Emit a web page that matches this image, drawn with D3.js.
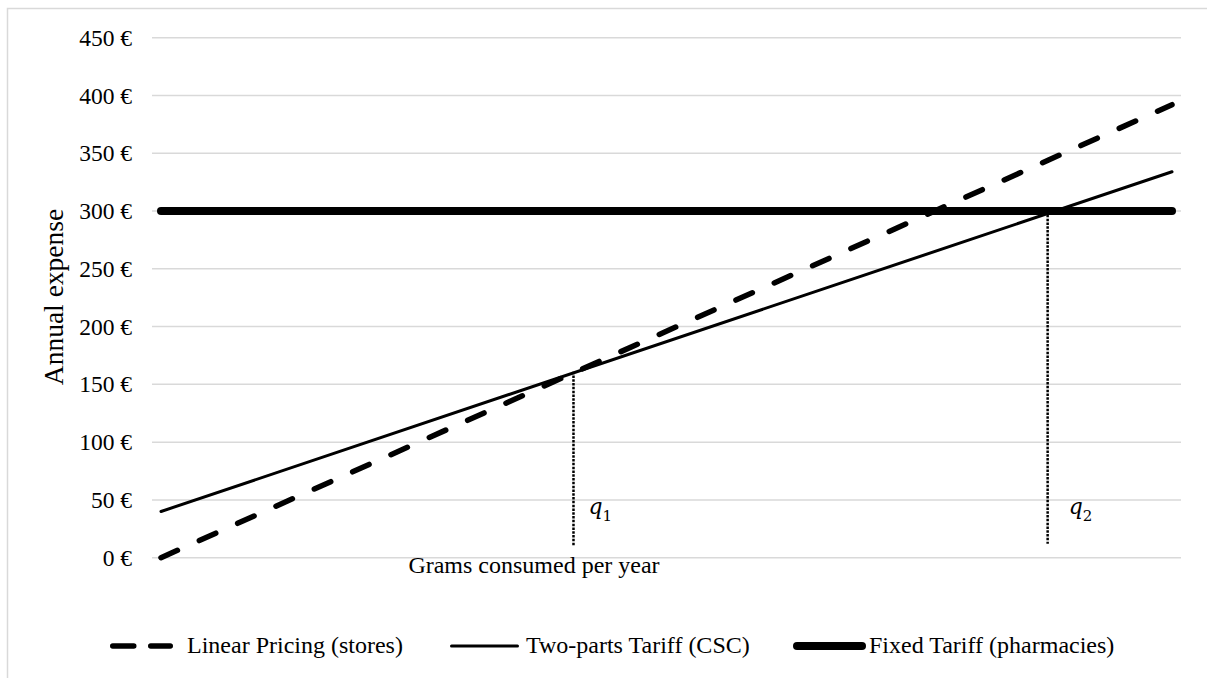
<!DOCTYPE html>
<html>
<head>
<meta charset="utf-8">
<script src="https://cdn.jsdelivr.net/npm/d3@7"></script>
<style>
  html, body { margin: 0; padding: 0; background: #fff; }
  svg text { font-family: "Liberation Serif", "Times New Roman", serif; fill: #000; }
</style>
</head>
<body>
<svg id="chart" width="1207" height="678"></svg>
<script>
// ---- data ----
const grams = [0, 100];
const linearPricing = [0, 392];
const twoPartsTariff = [40, 334];
const fixedTariff = [300, 300];
const seriesNames = ["Linear Pricing (stores)", "Two-parts Tariff (CSC)", "Fixed Tariff (pharmacies)"];
const yTicks = [0, 50, 100, 150, 200, 250, 300, 350, 400, 450];
const qSubs = ["1", "2"];
const qX = [40.8, 87.7];
const qTop = [161, 300];
const qBottom = [10, 12];
const yTitle = "Annual expense";
const xTitle = "Grams consumed per year";

// ---- layout ----
const svg = d3.select("#chart");
const x = d3.scaleLinear().domain([0, 100]).range([161, 1172]);
const y = d3.scaleLinear().domain([0, 450]).range([557.7, 37.7]);
const gridX0 = 152, gridX1 = 1181;

// outer frame
svg.append("rect").attr("x", 7.5).attr("y", 8.5).attr("width", 1230).attr("height", 700)
  .attr("fill", "none").attr("stroke", "#d9d9d9").attr("stroke-width", 1.5);

// gridlines
svg.append("g").selectAll("line").data(yTicks).join("line")
  .attr("x1", gridX0).attr("x2", gridX1)
  .attr("y1", d => y(d)).attr("y2", d => y(d))
  .attr("stroke", "#d9d9d9").attr("stroke-width", 1.5);

// y axis labels
const yAxis = d3.axisLeft(y).tickValues(yTicks).tickSize(0).tickPadding(0)
  .tickFormat(d => d + " €");
const gy = svg.append("g").attr("transform", "translate(132,0)").call(yAxis);
gy.select(".domain").remove();
gy.selectAll("text").style("font-family", "Liberation Serif").style("font-size", "23.5px").attr("fill", "#000");

// axis titles
svg.append("text").attr("transform", "translate(63,297) rotate(-90)")
  .attr("text-anchor", "middle").style("font-size", "27.5px").text(yTitle);
svg.append("text").attr("x", 534).attr("y", 573)
  .attr("text-anchor", "middle").style("font-size", "24px").text(xTitle);

// series
const pts = vals => grams.map((g, i) => [g, vals[i]]);
const line = d3.line().x(d => x(d[0])).y(d => y(d[1]));

svg.append("path").datum(pts(fixedTariff)).attr("d", line)
  .attr("fill", "none").attr("stroke", "#000").attr("stroke-width", 8).attr("stroke-linecap", "round");
svg.append("path").datum(pts(twoPartsTariff)).attr("d", line)
  .attr("fill", "none").attr("stroke", "#000").attr("stroke-width", 3).attr("stroke-linecap", "round");
svg.append("path").datum(pts(linearPricing)).attr("d", line)
  .attr("fill", "none").attr("stroke", "#000").attr("stroke-width", 5.5)
  .attr("stroke-linecap", "round").attr("stroke-dasharray", "18,24");

// q markers
const qData = qSubs.map((s, i) => ({ s, x: qX[i], top: qTop[i], bottom: qBottom[i] }));
svg.append("g").selectAll("line").data(qData).join("line")
  .attr("x1", d => x(d.x)).attr("x2", d => x(d.x))
  .attr("y1", d => y(d.top)).attr("y2", d => y(d.bottom))
  .attr("stroke", "#000").attr("stroke-width", 2.5).attr("stroke-dasharray", "2.5,1.3");
const ql = svg.append("g").selectAll("text").data(qData).join("text")
  .attr("x", (d, i) => x(d.x) + (i === 0 ? 15 : 21)).attr("y", 514)
  .style("font-family", "DejaVu Serif").style("font-size", "22px").style("font-style", "italic");
ql.append("tspan").text("q");
ql.append("tspan").attr("dy", 7).style("font-size", "15px").style("font-style", "normal").text(d => d.s);

// legend
const legY = 646;
const leg = [
  { name: seriesNames[0], x0: 110, x1: 173, w: 5.5, dash: "21,17", tx: 187 },
  { name: seriesNames[1], x0: 450, x1: 519, w: 3, dash: null, tx: 526 },
  { name: seriesNames[2], x0: 793, x1: 866, w: 8, dash: null, tx: 869 }
];
const lg = svg.append("g");
leg.forEach(d => {
  const l = lg.append("line").attr("x1", d.x0 + d.w / 2).attr("x2", d.x1 - d.w / 2)
    .attr("y1", legY).attr("y2", legY)
    .attr("stroke", "#000").attr("stroke-width", d.w).attr("stroke-linecap", "round");
  if (d.dash) l.attr("stroke-dasharray", d.dash);
  lg.append("text").attr("x", d.tx).attr("y", legY + 7).style("font-size", "24px").text(d.name);
});
</script>
</body>
</html>
